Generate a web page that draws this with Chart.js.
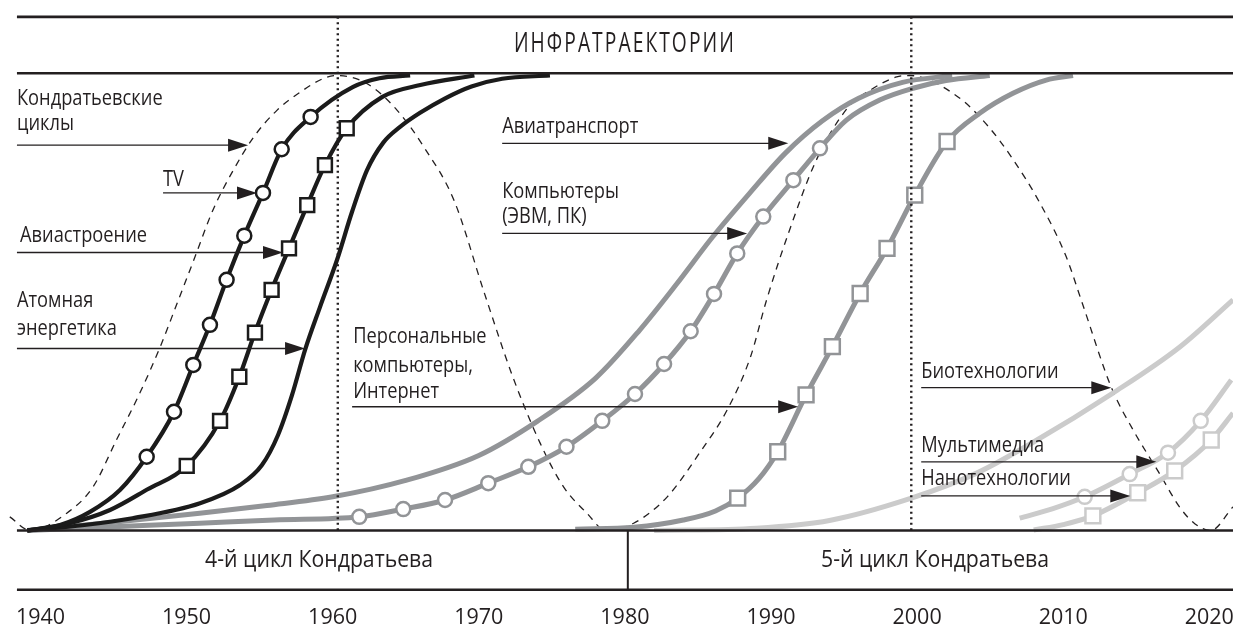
<!DOCTYPE html>
<html lang="ru">
<head>
<meta charset="utf-8">
<title>Инфратраектории</title>
<script src="https://cdn.jsdelivr.net/npm/chart.js@4.4.1/dist/chart.umd.min.js"></script>
<style>
  html, body { margin: 0; padding: 0; background: #fff; }
  #wrap { width: 1233px; height: 630px; }
</style>
</head>
<body>
<div id="wrap"><canvas id="grafik" width="1233" height="630"></canvas></div>
<script>
// подписи оси лет
const tickYears = [1940, 1950, 1960, 1970, 1980, 1990, 2000, 2010, 2020];

// кондратьевская волна (пунктир), [год, уровень]
const kondratievWave = [
  [1937.9, 3.0], [1939.3, 0], [1941.8, 3.8], [1943.6, 9.6], [1945.2, 19.9], [1946.8, 30.2],
  [1948.2, 40.4], [1949.3, 49.5], [1950.5, 59.5], [1951.8, 70.4], [1953.2, 79.2], [1954.6, 86.5],
  [1956.2, 92.4], [1957.8, 96.4], [1959.4, 99.4], [1960.3, 100], [1962.3, 98.3], [1964.4, 92.4],
  [1966.3, 84.0], [1968.3, 72.6], [1970.4, 52.0], [1972.3, 34.0], [1974.2, 19.2], [1975.8, 9.6],
  [1977.4, 3.8], [1978.7, 0], [1980.6, 1.6], [1982.9, 7.4], [1985.1, 17.0], [1987.0, 26.5],
  [1988.6, 38.2], [1989.7, 50.7], [1991.2, 65.4], [1993.1, 81.4], [1995.3, 93.1], [1996.8, 96.8],
  [1998.6, 99.7], [1999.5, 100], [2002.8, 95.3], [2004.9, 88.7], [2006.6, 81.4], [2008.4, 72.0],
  [2010.2, 60.2], [2011.3, 50.0], [2013.3, 31.4], [2014.8, 22.0], [2016.5, 13.0], [2018.0, 5.0],
  [2019.0, 1.5], [2020.1, 0], [2021.62, 5.2]
];

// 4-й цикл: TV (кружки), авиастроение (квадраты), атомная энергетика
const tvCurve = [
  [1939.1, 0], [1941.34, 1.2], [1943.39, 4.1], [1945.44, 8.9], [1947.27, 16.2], [1949.14, 26.1],
  [1950.46, 36.4], [1951.6, 45.2], [1952.74, 55.1], [1953.95, 64.8], [1955.23, 74.2],
  [1956.51, 83.8], [1958.49, 90.9], [1961.4, 97.5], [1963.2, 99.4], [1965.3, 100]
];
const tvMarks = [
  [1947.27, 16.2], [1949.14, 26.1], [1950.46, 36.4], [1951.6, 45.2], [1952.74, 55.1],
  [1953.95, 64.8], [1955.23, 74.2], [1956.51, 83.8], [1958.49, 90.9]
];

const aviaCurve = [
  [1939.1, 0], [1942.0, 1.6], [1944.76, 4.5], [1947.3, 9.0], [1950.01, 14.2],
  [1952.29, 24.1], [1953.61, 33.8], [1954.68, 43.5], [1955.82, 52.9], [1957.01, 62.0],
  [1958.26, 71.5], [1959.47, 80.3], [1960.96, 88.4], [1963.4, 95.3], [1966.0, 97.9], [1969.7, 100]
];
const aviaMarks = [
  [1950.01, 14.2], [1952.29, 24.1], [1953.61, 33.8], [1954.68, 43.5], [1955.82, 52.9],
  [1957.01, 62.0], [1958.26, 71.5], [1959.47, 80.3], [1960.96, 88.4]
];

const atomCurve = [
  [1939.1, 0], [1943, 1.2], [1946.3, 2.7], [1950.92, 6.0], [1953.66, 10.0], [1955.16, 14.4],
  [1956.26, 21.0], [1957.22, 29.8], [1958.11, 39.7], [1959.13, 49.1], [1960.3, 59.5],
  [1961.32, 70.0], [1962.35, 79.2], [1963.45, 85.2], [1964.61, 88.7], [1965.98, 91.8],
  [1967.7, 95.0], [1969.5, 97.6], [1971.6, 99.3], [1974.87, 100]
];

// авиатранспорт, компьютеры (ЭВМ, ПК) с кружками
const aviatransCurve = [
  [1939.1, 0], [1945, 1.8], [1950.9, 3.8], [1955.5, 5.5], [1960.0, 7.4], [1965.0, 11.0],
  [1970.0, 16.5], [1974.0, 24.0], [1978.0, 33.5], [1981.0, 44.0], [1983.5, 54.0],
  [1986.0, 64.5], [1988.5, 74.0], [1991.0, 83.0], [1993.5, 90.0], [1996.0, 95.0],
  [1999.0, 98.5], [2002.4, 100]
];

const compCurve = [
  [1939.1, 0], [1945, 0.8], [1950.9, 1.6], [1956, 2.3], [1961.82, 3.0], [1964.83, 4.7],
  [1967.69, 6.7], [1970.65, 10.4], [1973.39, 14.0], [1976.0, 18.4], [1978.45, 24.1],
  [1980.69, 30.0], [1982.68, 36.6], [1984.5, 43.8], [1986.1, 52.0], [1987.69, 60.9],
  [1989.47, 69.0], [1991.53, 77.0], [1993.35, 84.0], [1995.16, 90.2], [1997.44, 94.6],
  [1999.72, 97.2], [2001.98, 98.9], [2004.97, 100]
];
const compMarks = [
  [1961.82, 3.0], [1964.83, 4.7], [1967.69, 6.7], [1970.65, 10.4], [1973.39, 14.0],
  [1976.0, 18.4], [1978.45, 24.1], [1980.69, 30.0], [1982.68, 36.6], [1984.5, 43.8],
  [1986.1, 52.0], [1987.69, 60.9], [1989.47, 69.0], [1991.53, 77.0], [1993.35, 84.0]
];

// персональные компьютеры, Интернет (квадраты)
const pcCurve = [
  [1976.6, 0.3], [1980.6, 0.7], [1984.0, 2.3], [1986.2, 4.3], [1987.72, 7.1], [1989.2, 11.5],
  [1990.46, 17.3], [1992.4, 29.8], [1994.2, 40.4], [1996.1, 52.1], [1997.94, 62.0],
  [1999.84, 73.7], [2002.05, 85.5], [2004.28, 91.7], [2006.56, 96.1], [2008.84, 99.0], [2010.67, 100]
];
const pcMarks = [
  [1987.72, 7.1], [1990.46, 17.3], [1992.4, 29.8], [1994.2, 40.4], [1996.1, 52.1],
  [1997.94, 62.0], [1999.84, 73.7], [2002.05, 85.5]
];

// 5-й цикл: биотехнологии, мультимедиа (кружки), нанотехнологии (квадраты)
const bioCurve = [
  [1982, 0], [1989, 0.5], [1994, 2.2], [1999.5, 7.0], [2004, 12.5], [2008, 19.5],
  [2013.4, 30.2], [2018, 40.4], [2021.62, 50.7]
];

const multiCurve = [
  [2007.02, 2.7], [2009.3, 4.8], [2011.47, 7.4], [2014.55, 12.4], [2017.17, 17.1],
  [2019.41, 24.1], [2021.5, 33.1]
];
const multiMarks = [[2011.47, 7.4], [2014.55, 12.4], [2017.17, 17.1], [2019.41, 24.1]];

const nanoCurve = [
  [2007.98, 0.1], [2010, 1.3], [2012.03, 3.2], [2015.1, 8.3], [2017.63, 13.1],
  [2020.13, 19.9], [2021.62, 25.8]
];
const nanoMarks = [[2012.03, 3.2], [2015.1, 8.3], [2017.63, 13.1], [2020.13, 19.9]];

// подписи и стрелки (в координатах графика: год, уровень)
const notes = [
  ['Кондратьевские', 1938.39, 93.5], ['циклы', 1938.39, 88.0],
  ['TV', 1948.39, 75.8],
  ['Авиастроение', 1938.6, 63.5],
  ['Атомная', 1938.39, 49.2], ['энергетика', 1938.39, 43.0],
  ['Персональные', 1961.4, 41.2], ['компьютеры,', 1961.4, 34.9], ['Интернет', 1961.4, 29.1],
  ['Авиатранспорт', 1971.6, 87.4],
  ['Компьютеры', 1971.6, 73.1], ['(ЭВМ, ПК)', 1971.6, 67.6],
  ['Биотехнологии', 2000.28, 33.5],
  ['Мультимедиа', 2000.28, 17.3],
  ['Нанотехнологии', 2000.28, 10.0]
];
const arrows = [
  [1938.39, 1954.21, 84.7], [1948.39, 1954.82, 74.2], [1938.39, 1956.6, 61.1],
  [1938.39, 1958.11, 40.0], [1961.33, 1991.86, 27.2], [1971.6, 1991.18, 85.1],
  [1971.6, 1988.37, 65.3], [2000.28, 2013.29, 31.4], [2000.28, 2016.37, 15.1],
  [2000.28, 2014.59, 7.6]
];

const frame = { left: 1938.39, top: 112.9, cap: 100.5, base: 0, bottom: -13.3 };
const dottedYears = [1960.35, 1999.6];
const dividerYear = 1980.2;

const INK = '#231f20';
const BLACK = '#1b1b1b';
const GRAY = '#929497';
const LIGHT = '#cbcbcb';
const FONT = "'Open Sans', 'DejaVu Sans Condensed', sans-serif";
const NARROW = 0.87;   // сжатие подписей по ширине

function curve(data, color, width, extra) {
  return Object.assign({
    data, borderColor: color, borderWidth: width, pointRadius: 0,
    cubicInterpolationMode: 'monotone', fill: false, order: 1
  }, extra || {});
}
function marks(data, color, style, radius) {
  return {
    data, showLine: false, pointStyle: style, pointRadius: radius,
    pointBorderWidth: 2.5, pointBackgroundColor: '#fff', pointBorderColor: color, order: 0
  };
}

// текст, сжатый по горизонтали (sx) относительно точки привязки
function squeezed(ctx, text, px, py, sx) {
  ctx.save();
  ctx.translate(px, py);
  ctx.scale(sx, 1);
  ctx.fillText(text, 0, 0);
  ctx.restore();
}

const decor = {
  id: 'decor',
  afterDatasetsDraw(chart) {
    const { ctx, scales: { x, y } } = chart;
    const X = v => x.getPixelForValue(v);
    const Y = v => y.getPixelForValue(v);
    const right = chart.width;
    ctx.save();

    // пунктирные вертикали
    ctx.strokeStyle = INK;
    ctx.lineWidth = 2.4;
    ctx.setLineDash([2, 3.5]);
    dottedYears.forEach(yr => {
      ctx.beginPath();
      ctx.moveTo(X(yr), Y(frame.top));
      ctx.lineTo(X(yr), Y(frame.base));
      ctx.stroke();
    });
    ctx.setLineDash([]);

    // горизонтали рамки
    ctx.lineWidth = 2.6;
    [frame.top, frame.cap, frame.base, frame.bottom].forEach(v => {
      const py = Math.min(Y(v), chart.chartArea.bottom - 1.3);
      ctx.beginPath();
      ctx.moveTo(X(frame.left), py);
      ctx.lineTo(right, py);
      ctx.stroke();
    });
    ctx.lineWidth = 2;
    ctx.beginPath();
    ctx.moveTo(X(dividerYear), Y(frame.base));
    ctx.lineTo(X(dividerYear), Y(frame.bottom));
    ctx.stroke();

    ctx.fillStyle = INK;
    ctx.textBaseline = 'middle';
    ctx.textAlign = 'center';

    // заголовок
    ctx.font = '28px ' + FONT;
    ctx.letterSpacing = '3px';
    const head = 'ИНФРАТРАЕКТОРИИ';
    squeezed(ctx, head, X(1980), Y(107), 222 / ctx.measureText(head).width);
    ctx.letterSpacing = '0px';

    // циклы
    ctx.font = '23px ' + FONT;
    const c4 = '4-й цикл Кондратьева', c5 = '5-й цикл Кондратьева';
    squeezed(ctx, c4, X(1959.07), Y(-6.6), 228 / ctx.measureText(c4).width);
    squeezed(ctx, c5, X(2001.23), Y(-6.6), 228 / ctx.measureText(c5).width);

    // подписи
    ctx.font = '21px ' + FONT;
    ctx.textAlign = 'left';
    ctx.textBaseline = 'alphabetic';
    notes.forEach(([t, yr, v]) => squeezed(ctx, t, X(yr), Y(v), NARROW));

    // стрелки
    ctx.lineWidth = 1.3;
    arrows.forEach(([a, b, v]) => {
      const py = Y(v), tip = X(b);
      ctx.beginPath();
      ctx.moveTo(X(a), py);
      ctx.lineTo(tip - 18, py);
      ctx.stroke();
      ctx.beginPath();
      ctx.moveTo(tip, py);
      ctx.lineTo(tip - 20, py - 6.5);
      ctx.lineTo(tip - 20, py + 6.5);
      ctx.closePath();
      ctx.fill();
    });
    ctx.restore();
  }
};

new Chart(document.getElementById('grafik'), {
  type: 'line',
  data: {
    datasets: [
      curve(kondratievWave, INK, 1.3, { borderDash: [7, 6], order: 2 }),
      curve(tvCurve, BLACK, 4.2),
      curve(aviaCurve, BLACK, 4.2),
      curve(atomCurve, BLACK, 4.2),
      curve(aviatransCurve, GRAY, 5),
      curve(compCurve, GRAY, 5),
      curve(pcCurve, GRAY, 5),
      curve(bioCurve, LIGHT, 5),
      curve(multiCurve, LIGHT, 5),
      curve(nanoCurve, LIGHT, 5),
      marks(tvMarks, BLACK, 'circle', 7),
      marks(aviaMarks, BLACK, 'rect', 9.8),
      marks(compMarks, GRAY, 'circle', 7),
      marks(pcMarks, GRAY, 'rect', 10.5),
      marks(multiMarks, LIGHT, 'circle', 7),
      marks(nanoMarks, LIGHT, 'rect', 10.5)
    ]
  },
  options: {
    responsive: false,
    devicePixelRatio: 1,
    animation: false,
    events: [],
    layout: { padding: 0, autoPadding: false },
    plugins: { legend: { display: false }, tooltip: { enabled: false } },
    scales: {
      x: {
        type: 'linear',
        min: 1937.23,
        max: 2021.62,
        grid: { display: false, drawTicks: false },
        border: { display: false },
        afterBuildTicks: s => { s.ticks = tickYears.map(v => ({ value: v })); },
        afterFit: s => { s.height = 39; s.paddingLeft = 0; s.paddingRight = 0; },
        ticks: {
          autoSkip: false,
          maxRotation: 0,
          padding: 14,
          color: INK,
          font: { family: FONT, size: 21.5 },
          callback: v => String(v)
        }
      },
      y: {
        display: false,
        min: -13.3,
        max: 116.6
      }
    }
  },
  plugins: [decor]
});
</script>
</body>
</html>
